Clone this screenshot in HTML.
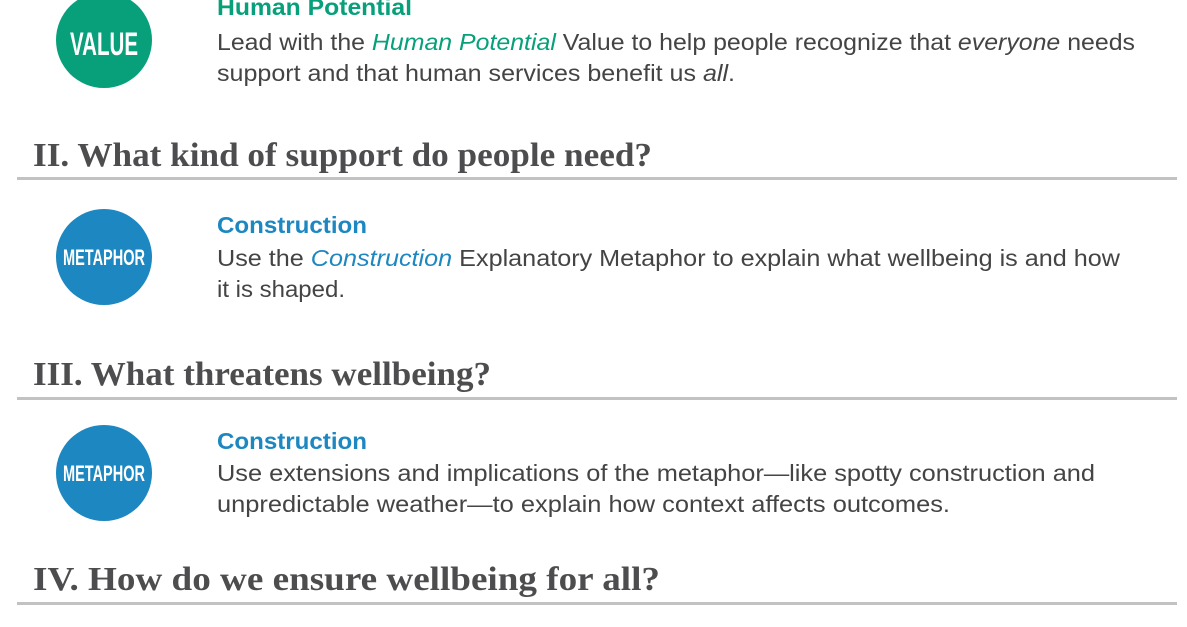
<!DOCTYPE html>
<html><head><meta charset="utf-8"><style>
html,body{margin:0;padding:0;background:#fff;width:1187px;height:627px;overflow:hidden}
svg{display:block}
.b{font-family:"Liberation Sans",sans-serif;font-size:23px;fill:#444}
.t{font-family:"Liberation Sans",sans-serif;font-size:23px;font-weight:bold}
.h{font-family:"Liberation Serif",serif;font-size:34px;font-weight:bold;fill:#4d4d4f}
.c{font-family:"Liberation Sans",sans-serif;font-weight:bold;fill:#fff}
</style></head><body>
<svg width="1187" height="627" viewBox="0 0 1187 627">
<g>
<circle cx="104" cy="40" r="48" fill="#07a07a"/>
<text x="104" y="55" class="c" font-size="32" text-anchor="middle" textLength="68" lengthAdjust="spacingAndGlyphs">VALUE</text>
<text x="217" y="15" class="t" fill="#07a07a" textLength="195" lengthAdjust="spacingAndGlyphs">Human Potential</text>
<text x="217" y="50" class="b" textLength="918" lengthAdjust="spacingAndGlyphs">Lead with the <tspan font-style="italic" fill="#07a07a">Human Potential</tspan> Value to help people recognize that <tspan font-style="italic">everyone</tspan> needs</text>
<text x="217" y="81" class="b" textLength="518" lengthAdjust="spacingAndGlyphs">support and that human services benefit us <tspan font-style="italic">all</tspan>.</text>
</g>
<text x="33" y="166" class="h" textLength="619" lengthAdjust="spacingAndGlyphs">II. What kind of support do people need?</text>
<rect x="17" y="177" width="1160" height="3" fill="#c2c2c2"/>
<g>
<circle cx="104" cy="257" r="48" fill="#1c87c0"/>
<text x="104" y="265" class="c" font-size="22" text-anchor="middle" textLength="82" lengthAdjust="spacingAndGlyphs">METAPHOR</text>
<text x="217" y="233" class="t" fill="#1c87c0" textLength="150" lengthAdjust="spacingAndGlyphs">Construction</text>
<text x="217" y="266" class="b" textLength="903" lengthAdjust="spacingAndGlyphs">Use the <tspan font-style="italic" fill="#1c87c0">Construction</tspan> Explanatory Metaphor to explain what wellbeing is and how</text>
<text x="217" y="297" class="b" textLength="128" lengthAdjust="spacingAndGlyphs">it is shaped.</text>
</g>
<text x="33" y="385" class="h" textLength="458" lengthAdjust="spacingAndGlyphs">III. What threatens wellbeing?</text>
<rect x="17" y="397" width="1160" height="3" fill="#c2c2c2"/>
<g>
<circle cx="104" cy="473" r="48" fill="#1c87c0"/>
<text x="104" y="481" class="c" font-size="22" text-anchor="middle" textLength="82" lengthAdjust="spacingAndGlyphs">METAPHOR</text>
<text x="217" y="449" class="t" fill="#1c87c0" textLength="150" lengthAdjust="spacingAndGlyphs">Construction</text>
<text x="217" y="481" class="b" textLength="878" lengthAdjust="spacingAndGlyphs">Use extensions and implications of the metaphor—like spotty construction and</text>
<text x="217" y="512" class="b" textLength="733" lengthAdjust="spacingAndGlyphs">unpredictable weather—to explain how context affects outcomes.</text>
</g>
<text x="33" y="590" class="h" textLength="627" lengthAdjust="spacingAndGlyphs">IV. How do we ensure wellbeing for all?</text>
<rect x="17" y="602" width="1160" height="3" fill="#c2c2c2"/>
</svg>
</body></html>
